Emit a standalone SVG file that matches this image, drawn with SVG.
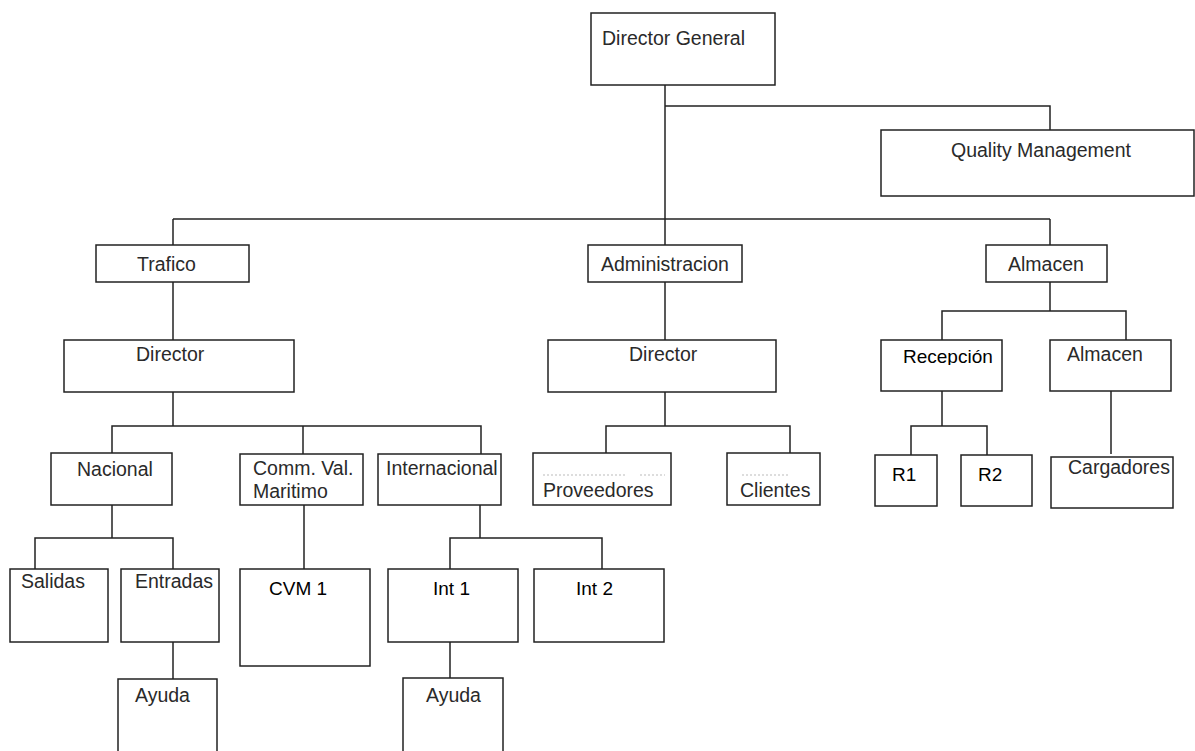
<svg xmlns="http://www.w3.org/2000/svg" width="1195" height="751" viewBox="0 0 1195 751">
  <style>
    .box { fill: #fff; stroke: #222; stroke-width: 1.5; }
    .lbl { font-family: "Liberation Sans", Arial, sans-serif; font-size: 19.5px; fill: #2a2a2a; }
    .lbl-b { font-family: "Liberation Sans", Arial, sans-serif; font-size: 19px; fill: #000; }
    .wire { fill: none; stroke: #222; stroke-width: 1.5; }
    .ghost { fill: none; stroke: #bbb; stroke-width: 1; stroke-dasharray: 2 2; }
  </style>
  <defs>
    <clipPath id="clipRecepcion">
      <rect x="881" y="340" width="121" height="25"/>
    </clipPath>
  </defs>
  <rect width="1195" height="751" fill="#fff"/>

  <!-- connectors -->
  <g id="connectors" class="wire">
    <path d="M665,85 V219"/>
    <path d="M665,106 H1050 V130"/>
    <path d="M173,219 H1050"/>
    <path d="M173,219 V245"/>
    <path d="M665,219 V245"/>
    <path d="M1050,219 V245"/>
    <path d="M173,282 V340"/>
    <path d="M173,392 V426"/>
    <path d="M112,453 V426 H481 V454"/>
    <path d="M303,426 V454"/>
    <path d="M112,505 V538"/>
    <path d="M35,569 V538 H173 V569"/>
    <path d="M304,505 V569"/>
    <path d="M480,505 V538"/>
    <path d="M450,569 V538 H602 V569"/>
    <path d="M450,642 V678"/>
    <path d="M173,642 V679"/>
    <path d="M665,282 V340"/>
    <path d="M665,392 V426"/>
    <path d="M606,453 V426 H790 V453"/>
    <path d="M1050,282 V311"/>
    <path d="M942,340 V311 H1126 V340"/>
    <path d="M942,391 V426"/>
    <path d="M911,455 V426 H987 V455"/>
    <path d="M1111,391 V454"/>
  </g>

  <!-- nodes -->
  <g id="director-general">
    <rect class="box" x="591" y="13" width="184" height="72"/>
    <text class="lbl" x="602" y="45">Director General</text>
  </g>
  <g id="quality-management">
    <rect class="box" x="881" y="130" width="313" height="66"/>
    <text class="lbl" x="951" y="157">Quality Management</text>
  </g>
  <g id="trafico">
    <rect class="box" x="96" y="245" width="153" height="37"/>
    <text class="lbl" x="137" y="271">Trafico</text>
  </g>
  <g id="administracion">
    <rect class="box" x="588" y="245" width="154" height="37"/>
    <text class="lbl" x="601" y="271">Administracion</text>
  </g>
  <g id="almacen">
    <rect class="box" x="986" y="245" width="121" height="37"/>
    <text class="lbl" x="1008" y="271">Almacen</text>
  </g>
  <g id="director-trafico">
    <rect class="box" x="64" y="340" width="230" height="52"/>
    <text class="lbl" x="136" y="361">Director</text>
  </g>
  <g id="director-administracion">
    <rect class="box" x="548" y="340" width="228" height="52"/>
    <text class="lbl" x="629" y="361">Director</text>
  </g>
  <g id="recepcion">
    <rect class="box" x="881" y="340" width="121" height="51"/>
    <text class="lbl-b" x="903" y="363" font-size="17" fill="#111" clip-path="url(#clipRecepcion)">Recepción</text>
  </g>
  <g id="almacen-sub">
    <rect class="box" x="1050" y="340" width="121" height="51"/>
    <text class="lbl" x="1067" y="361">Almacen</text>
  </g>
  <g id="nacional">
    <rect class="box" x="51" y="453" width="121" height="52"/>
    <text class="lbl" x="77" y="476">Nacional</text>
  </g>
  <g id="comm-val-maritimo">
    <rect class="box" x="240" y="454" width="123" height="51"/>
    <text class="lbl" x="253" y="475">Comm. Val.</text>
    <text class="lbl" x="253" y="498">Maritimo</text>
  </g>
  <g id="internacional">
    <rect class="box" x="378" y="454" width="123" height="51"/>
    <text class="lbl" x="386" y="475">Internacional</text>
  </g>
  <g id="proveedores">
    <rect class="box" x="533" y="453" width="138" height="52"/>
    <path class="ghost" d="M543,475 H625 M640,475 H665"/>
    <text class="lbl" x="543" y="497">Proveedores</text>
  </g>
  <g id="clientes">
    <rect class="box" x="727" y="453" width="93" height="52"/>
    <path class="ghost" d="M742,475 H790"/>
    <text class="lbl" x="740" y="497">Clientes</text>
  </g>
  <g id="r1">
    <rect class="box" x="875" y="455" width="62" height="51"/>
    <text class="lbl-b" x="892" y="481" font-size="18">R1</text>
  </g>
  <g id="r2">
    <rect class="box" x="961" y="455" width="71" height="51"/>
    <text class="lbl-b" x="978" y="481" font-size="18">R2</text>
  </g>
  <g id="cargadores">
    <rect class="box" x="1051" y="457" width="122" height="51"/>
    <text class="lbl" x="1068" y="474" font-size="18.6">Cargadores</text>
  </g>
  <g id="salidas">
    <rect class="box" x="10" y="569" width="98" height="73"/>
    <text class="lbl" x="21" y="588" font-size="19">Salidas</text>
  </g>
  <g id="entradas">
    <rect class="box" x="121" y="569" width="98" height="73"/>
    <text class="lbl" x="135" y="588">Entradas</text>
  </g>
  <g id="cvm1">
    <rect class="box" x="240" y="569" width="130" height="97"/>
    <text class="lbl-b" x="269" y="595">CVM 1</text>
  </g>
  <g id="int1">
    <rect class="box" x="388" y="569" width="130" height="73"/>
    <text class="lbl-b" x="433" y="595" font-size="18.5">Int 1</text>
  </g>
  <g id="int2">
    <rect class="box" x="534" y="569" width="130" height="73"/>
    <text class="lbl-b" x="576" y="595" font-size="18.5">Int 2</text>
  </g>
  <g id="ayuda-entradas">
    <rect class="box" x="118" y="679" width="99" height="80"/>
    <text class="lbl" x="135" y="702">Ayuda</text>
  </g>
  <g id="ayuda-int1">
    <rect class="box" x="403" y="678" width="100" height="80"/>
    <text class="lbl" x="426" y="702">Ayuda</text>
  </g>
</svg>
